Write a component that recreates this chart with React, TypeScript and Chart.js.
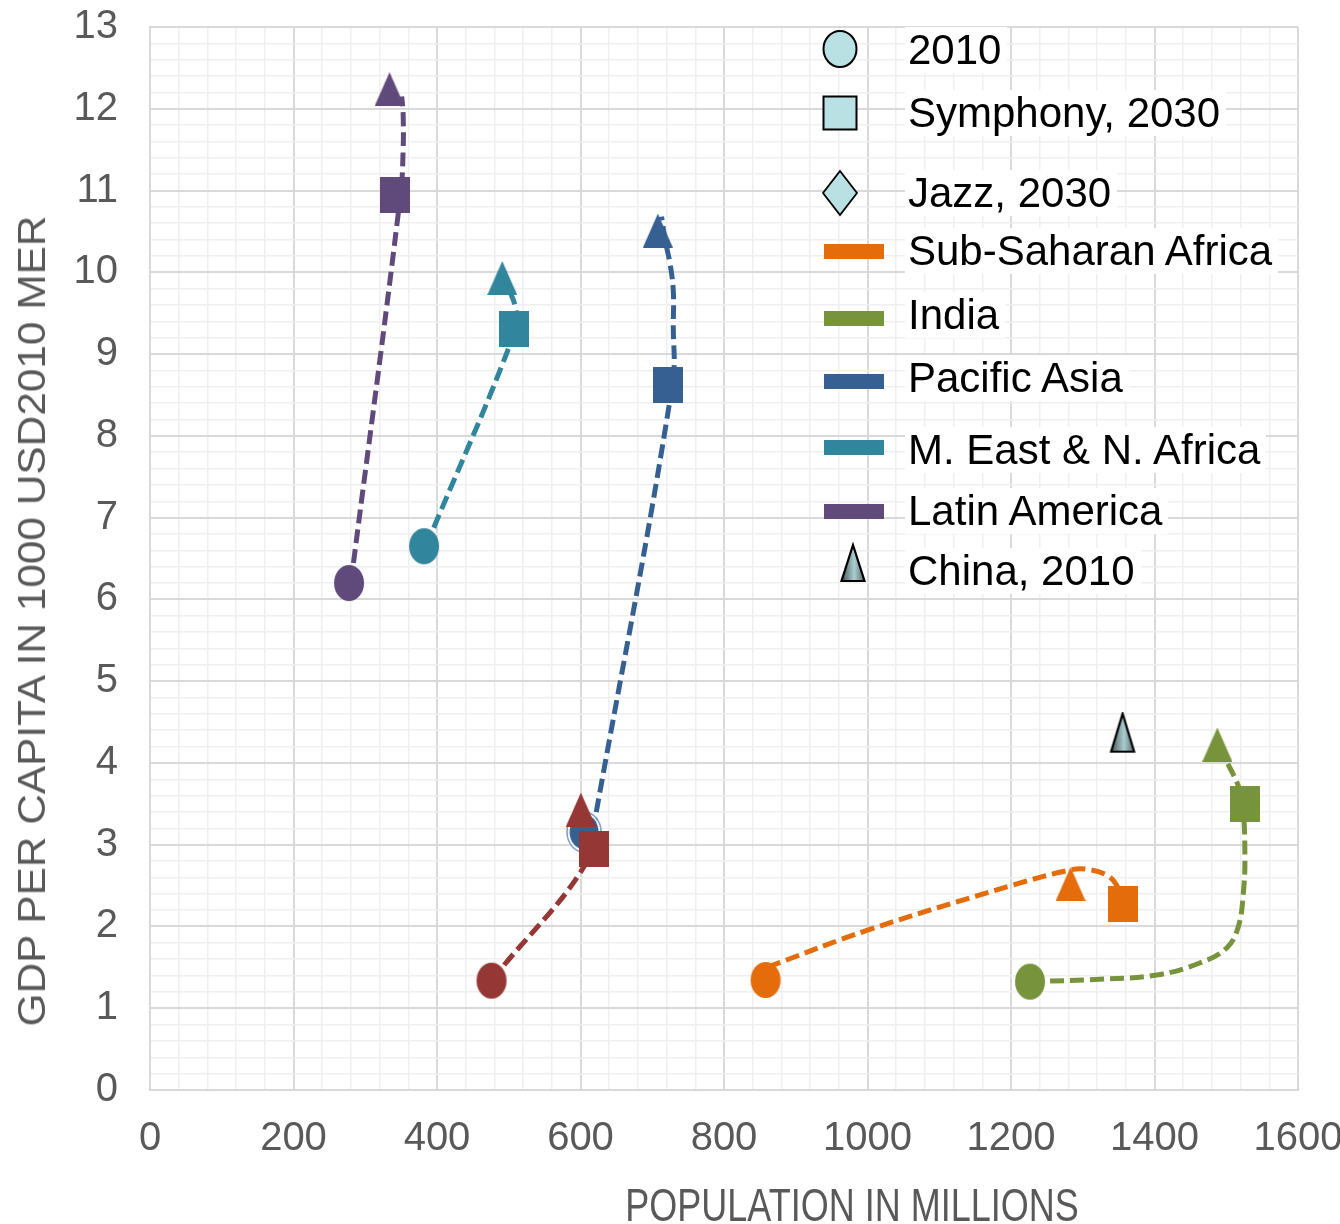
import React, { useEffect, useRef } from 'react';
import { Chart, registerables } from 'chart.js';

Chart.register(...registerables);

const FONT = "'Liberation Sans', Arial, Helvetica, sans-serif";
const GRAY = '#595959';

// ---- data -------------------------------------------------------------
const regionNames = ['Sub-Saharan Africa', 'India', 'Pacific Asia', 'M. East & N. Africa', 'Latin America', 'Other'];
const regionColors = ['#E46C0A', '#77933C', '#376092', '#31859C', '#604A7B', '#953735'];

// population (millions) and GDP per capita (1000 USD2010 MER)
const pop2010 = [858, 1226.5, 605, 382, 277.4, 476];
const gdp2010 = [1.345, 1.325, 3.155, 6.65, 6.2, 1.337];
const popSymphony2030 = [1356, 1526, 721.5, 507.3, 341.2, 618.8];
const gdpSymphony2030 = [2.275, 3.5, 8.625, 9.31, 10.95, 2.947];
const popJazz2030 = [1283, 1487.6, 707.8, 491, 333.8, 600.5];
const gdpJazz2030 = [2.52, 4.225, 10.51, 9.93, 12.24, 3.43];

const chinaPop2010 = [1355.5];
const chinaGdp2010 = [4.37];

// trajectories (dashed smoothed lines)
const ssaPath = [[860, 1.5], [1001, 1.957], [1203, 2.507], [1282, 2.69], [1305, 2.7], [1333, 2.63], [1347, 2.507], [1356, 2.275]];
const indiaPath = [[1226.5, 1.325], [1324, 1.354], [1403, 1.406], [1463, 1.553], [1500.6, 1.737], [1516.8, 1.997], [1523.8, 2.41], [1526, 2.85], [1523, 3.5], [1516.8, 3.72], [1500.6, 4.02]];
const pacificPath = [[617, 3.155], [728, 8.62], [729.3, 9.38], [729.3, 9.78], [724.7, 10.11], [717.8, 10.4], [713, 10.68]];
const menaPath = [[384.7, 6.65], [510, 9.31], [509, 9.58], [500, 9.8]];
const latinPath = [[280, 6.2], [349.2, 10.95], [352.8, 11.5], [352.8, 11.94], [350.8, 12.15]];
const otherPath = [[476, 1.337], [618.8, 2.947], [600.5, 3.43]];
const regionPaths = [ssaPath, indiaPath, pacificPath, menaPath, latinPath, otherPath];

const xMajorTicks = [0, 200, 400, 600, 800, 1000, 1200, 1400, 1600];
const yMajorTicks = [0, 1, 2, 3, 4, 5, 6, 7, 8, 9, 10, 11, 12, 13];

const legendLabels = ['2010', 'Symphony, 2030', 'Jazz, 2030', 'Sub-Saharan Africa', 'India', 'Pacific Asia', 'M. East & N. Africa', 'Latin America', 'China, 2010'];

// ---- marker images ----------------------------------------------------
function mk(w: number, h: number, draw: (g: CanvasRenderingContext2D, W: number, H: number) => void) {
  const c = document.createElement('canvas');
  c.width = w;
  c.height = h;
  const g = c.getContext('2d') as CanvasRenderingContext2D;
  draw(g, w, h);
  return c;
}
function ellipseImg(fill: string, ring = false) {
  return mk(36, 42, (g, W, H) => {
    if (ring) {
      g.beginPath();
      g.ellipse(W / 2, H / 2, 17, 20, 0, 0, Math.PI * 2);
      g.strokeStyle = '#7396C2';
      g.lineWidth = 1.5;
      g.stroke();
      g.beginPath();
      g.ellipse(W / 2, H / 2, 15.3, 18.3, 0, 0, Math.PI * 2);
      g.strokeStyle = '#FFFFFF';
      g.lineWidth = 1.5;
      g.stroke();
      g.beginPath();
      g.ellipse(W / 2, H / 2, 14.5, 17.5, 0, 0, Math.PI * 2);
    } else {
      g.beginPath();
      g.ellipse(W / 2, H / 2, 15, 18, 0, 0, Math.PI * 2);
    }
    g.fillStyle = fill;
    g.fill();
  });
}
function squareImg(fill: string) {
  return mk(30, 36, (g, W, H) => {
    g.fillStyle = fill;
    g.fillRect(0, 0, W, H);
  });
}
function triangleImg(fill: string) {
  return mk(30, 34, (g, W, H) => {
    g.beginPath();
    g.moveTo(W / 2, 0);
    g.lineTo(W, H);
    g.lineTo(0, H);
    g.closePath();
    g.fillStyle = fill;
    g.fill();
  });
}
function chinaImg() {
  return mk(28, 42, (g, W, H) => {
    const grad = g.createLinearGradient(2, 0, W - 2, 0);
    grad.addColorStop(0, '#45524F');
    grad.addColorStop(0.55, '#A9CFD2');
    grad.addColorStop(1, '#5C6A6C');
    g.beginPath();
    g.moveTo(W / 2, 2);
    g.lineTo(W - 2.5, H - 2);
    g.lineTo(2.5, H - 2);
    g.closePath();
    g.fillStyle = grad;
    g.fill();
    g.strokeStyle = '#000';
    g.lineWidth = 2.2;
    g.lineJoin = 'miter';
    g.stroke();
  });
}

const near = (arr: number[], v: number) => arr.some((t) => Math.abs(t - v) < 1e-6);

const zeroPad = (s: any) => {
  s.paddingTop = 0;
  s.paddingBottom = 0;
  s.paddingLeft = 0;
  s.paddingRight = 0;
};

export default function App() {
  const ref = useRef<HTMLCanvasElement | null>(null);

  useEffect(() => {
    if (!ref.current) return;

    const pathSets = regionPaths.map((p, i) => ({
      label: regionNames[i] + ' path',
      showLine: true,
      data: p.map(([x, y]) => ({ x, y })),
      borderColor: regionColors[i],
      backgroundColor: regionColors[i],
      borderWidth: 5,
      borderDash: [14, 6],
      borderCapStyle: 'butt',
      tension: 0.4,
      pointRadius: 0,
      fill: false,
      order: 10,
    }));

    const drawOrder = [5, 0, 1, 2, 3, 4];
    const markerSets = drawOrder.map((i) => ({
      label: regionNames[i],
      showLine: false,
      data: [
        { x: pop2010[i], y: gdp2010[i] },
        { x: popJazz2030[i], y: gdpJazz2030[i] },
        { x: popSymphony2030[i], y: gdpSymphony2030[i] },
      ],
      pointStyle: [ellipseImg(regionColors[i], i === 2), triangleImg(regionColors[i]), squareImg(regionColors[i])],
      pointRadius: 10,
      pointBorderWidth: 0,
      order: 0,
    }));

    const chinaSet = {
      label: 'China, 2010',
      showLine: false,
      data: chinaPop2010.map((x, k) => ({ x, y: chinaGdp2010[k] })),
      pointStyle: chinaImg(),
      pointRadius: 10,
      pointBorderWidth: 0,
      order: 0,
    };

    const chart = new Chart(ref.current, {
      type: 'scatter',
      data: { datasets: [...markerSets, chinaSet, ...pathSets] as any },
      options: {
        responsive: false,
        animation: false,
        events: [],
        layout: { padding: { top: 27, right: 42, left: 0, bottom: 0 } },
        plugins: {
          legend: { display: false },
          tooltip: { enabled: false },
          title: { display: false },
        },
        scales: {
          x: {
            type: 'linear',
            min: 0,
            max: 1600,
            afterFit: (s: any) => {
              s.height = 134;
              zeroPad(s);
            },
            ticks: {
              stepSize: 40,
              autoSkip: false,
              maxRotation: 0,
              minRotation: 0,
              padding: 25,
              color: GRAY,
              font: { family: FONT, size: 40 },
              callback: (v: any) => (near(xMajorTicks, Number(v)) ? String(Math.round(Number(v))) : ''),
            },
            grid: {
              drawTicks: false,
              color: (c: any) => (c.tick && near(xMajorTicks, c.tick.value) ? '#D9D9D9' : '#EFEFEF'),
              lineWidth: (c: any) => (c.tick && near(xMajorTicks, c.tick.value) ? 2 : 1.5),
            },
            border: { display: true, color: '#D9D9D9', width: 2 },
          },
          y: {
            type: 'linear',
            min: 0,
            max: 13,
            afterFit: (s: any) => {
              s.width = 150;
              zeroPad(s);
            },
            ticks: {
              stepSize: 0.2,
              autoSkip: false,
              padding: 32,
              color: GRAY,
              font: { family: FONT, size: 40 },
              callback: (v: any) => (near(yMajorTicks, Number(v)) ? String(Math.round(Number(v))) : ''),
            },
            grid: {
              drawTicks: false,
              color: (c: any) => (c.tick && near(yMajorTicks, c.tick.value) ? '#D9D9D9' : '#EFEFEF'),
              lineWidth: (c: any) => (c.tick && near(yMajorTicks, c.tick.value) ? 2 : 1.5),
            },
            border: { display: true, color: '#D9D9D9', width: 2 },
          },
        },
      } as any,
    });
    return () => chart.destroy();
  }, []);

  const legendFill = '#B9E0E2';
  const textY = [50, 113, 193, 251, 315, 378, 450, 511, 571];
  const textStyle = (y: number): React.CSSProperties => ({
    position: 'absolute',
    left: 905,
    top: y,
    transform: 'translateY(-50%)',
    fontFamily: FONT,
    fontSize: 42,
    lineHeight: '46px',
    color: '#000',
    background: '#fff',
    padding: '0 6px 0 3px',
    whiteSpace: 'nowrap',
  });
  const bar = (y: number, color: string): React.CSSProperties => ({
    position: 'absolute',
    left: 824,
    top: y - 7.5,
    width: 60,
    height: 15,
    background: color,
  });

  return (
    <div style={{ position: 'absolute', left: 0, top: 0, width: 1340, height: 1224, background: '#fff', overflow: 'hidden' }}>
      <canvas ref={ref} width={1340} height={1224} style={{ position: 'absolute', left: 0, top: 0 }} />

      {/* axis titles */}
      <div
        style={{
          position: 'absolute',
          left: 32,
          top: 621,
          transform: 'translate(-50%, -50%) rotate(-90deg) scaleX(1.115)',
          fontFamily: FONT,
          fontSize: 38,
          lineHeight: 1,
          color: GRAY,
          whiteSpace: 'nowrap',
        }}
      >
        GDP PER CAPITA IN 1000 USD2010 MER
      </div>
      <div
        style={{
          position: 'absolute',
          left: 852,
          top: 1206,
          transform: 'translate(-50%, -50%) scaleY(1.28)',
          fontFamily: FONT,
          fontSize: 36,
          lineHeight: 1,
          color: GRAY,
          whiteSpace: 'nowrap',
        }}
      >
        POPULATION IN MILLIONS
      </div>

      {/* legend markers */}
      <svg width={1340} height={620} style={{ position: 'absolute', left: 0, top: 0 }}>
        <defs>
          <linearGradient id="chinaGrad" x1="0" x2="1" y1="0" y2="0">
            <stop offset="0" stopColor="#45524F" />
            <stop offset="0.55" stopColor="#A9CFD2" />
            <stop offset="1" stopColor="#5C6A6C" />
          </linearGradient>
        </defs>
        <ellipse cx={840} cy={49} rx={16.5} ry={18} fill={legendFill} stroke="#000" strokeWidth={2} />
        <rect x={823.5} y={96.5} width={33} height={33} fill={legendFill} stroke="#000" strokeWidth={2} />
        <polygon points="840,171 857,193 840,215 823,193" fill={legendFill} stroke="#000" strokeWidth={1.8} />
        <polygon points="853,545 864.5,581 841.5,581" fill="url(#chinaGrad)" stroke="#000" strokeWidth={2.2} />
      </svg>
      <div style={bar(251, regionColors[0])} />
      <div style={bar(318, regionColors[1])} />
      <div style={bar(381, regionColors[2])} />
      <div style={bar(447, regionColors[3])} />
      <div style={bar(511, regionColors[4])} />

      {legendLabels.map((t, i) => (
        <div key={t} style={textStyle(textY[i])}>
          {t}
        </div>
      ))}
    </div>
  );
}
